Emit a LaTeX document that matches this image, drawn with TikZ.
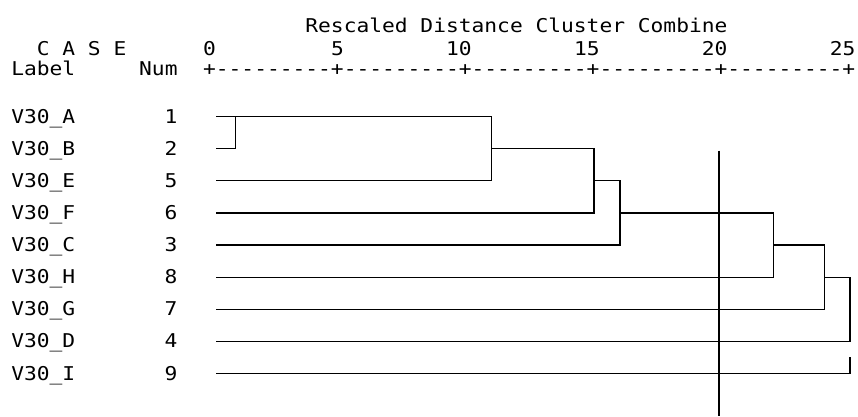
\documentclass[tikz,border=0pt]{standalone}
\usepackage{fontspec}
% fixed-pitch face for the listing-style dendrogram
\newfontfamily\spssmono[FakeStretch=1.118,Ligatures=TeXOff]{DejaVu Sans Mono}

\begin{document}
\begin{tikzpicture}[x=1pt,y=-1pt,
  txt/.style={font=\spssmono\fontsize{19}{19}\selectfont, inner sep=0pt, outer sep=0pt, text=black},
  lbl/.style={txt, anchor=base west},
  num/.style={txt, anchor=base},
  numr/.style={txt, anchor=base east},
  tree/.style={line width=1.2pt, black},
  cut/.style={line width=2.2pt, black}]
\useasboundingbox (0,0) rectangle (858,416);

% header
\node[lbl] (title) at (305.4,32) {Rescaled Distance Cluster Combine};
\node[lbl] (case) at (36.8,55) {C A S E};
\node[num] (t0) at (209.5,55) {0};
\node[num] (t5) at (337.4,55) {5};
\node[numr] (t10) at (471.7,55) {10};
\node[numr] (t15) at (599.6,55) {15};
\node[numr] (t20) at (727.5,55) {20};
\node[numr] (t25) at (855.4,55) {25};
\node[lbl] (hlabel) at (11.26,75) {Label};
\node[lbl] (hnum) at (139.2,75) {Num};
\node[lbl] (axis) at (203.1,75) {+---------+---------+---------+---------+---------+};

% case rows: label, number and leaf start
\foreach \lab/\n [count=\i from 0] in {A/1,B/2,E/5,F/6,C/3,H/8,G/7,D/4,I/9}{
  \pgfmathsetmacro\yy{116.7+32.08*\i}
  \node[lbl] (lab-\lab) at (11.26,\yy+6.7) {V30\_\lab};
  \node[num] (num-\lab) at (171.1,\yy+6.7) {\n};
  \coordinate (leaf-\lab) at (216,\yy);
}

% merge levels
\coordinate (c1) at (235.7,0);
\coordinate (c2) at (491.7,0);
\coordinate (c3) at (594,0);
\coordinate (c4) at (620,0);
\coordinate (c5) at (773.3,0);
\coordinate (c6) at (824.3,0);
\coordinate (c7) at (850,0);
\coordinate (stub) at (850,357.3);

\draw[tree] (leaf-B) -| (c1 |- leaf-A);
\draw[tree] (leaf-A) -| (c2 |- leaf-E) -- (leaf-E);
\draw[tree] (c2 |- leaf-B) -| (c3 |- leaf-F) -- (leaf-F);
\draw[tree] (c3 |- leaf-E) -| (c4 |- leaf-C) -- (leaf-C);
\draw[tree] (c4 |- leaf-F) -| (c5 |- leaf-H) -- (leaf-H);
\draw[tree] (c5 |- leaf-C) -| (c6 |- leaf-G) -- (leaf-G);
\draw[tree] (c6 |- leaf-H) -| (c7 |- leaf-D) -- (leaf-D);
\draw[tree] (leaf-I) -| (stub);

% cut line
\coordinate (cutTop) at (719.3,150.7);
\coordinate (cutBot) at (719.3,416);
\draw[cut] (cutTop) -- (cutBot);
\end{tikzpicture}
\end{document}
